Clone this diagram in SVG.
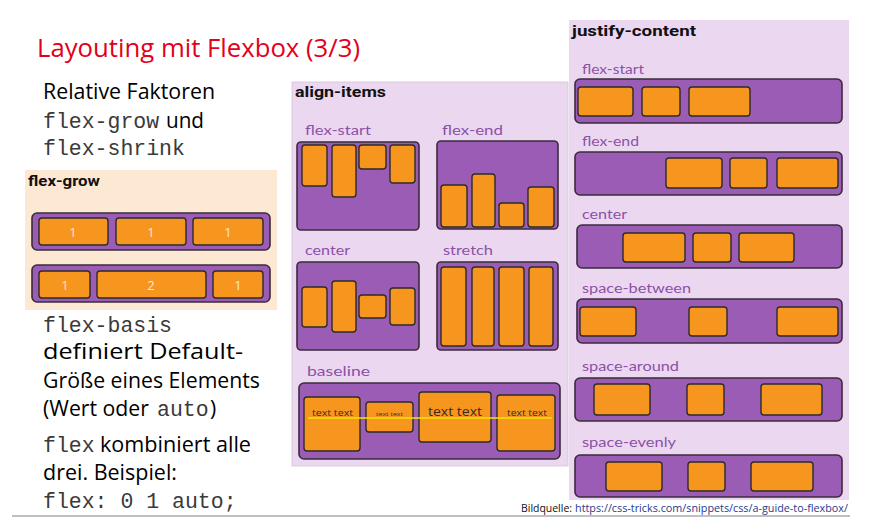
<svg xmlns="http://www.w3.org/2000/svg" width="872" height="518" viewBox="0 0 872 518">
<style>
.title{font-family:"Open Sans","Liberation Sans",sans-serif;font-size:25px;fill:#e2001a}
.body{font-family:"Open Sans","Liberation Sans",sans-serif;font-size:21px;fill:#000}
.mono{font-family:"Liberation Mono","DejaVu Sans Mono",monospace;font-size:21.5px;fill:#3a3a3a}
.hd{font-family:Roboto,"Liberation Sans",sans-serif;font-weight:bold;font-size:14px;fill:#111}
.lab{font-family:Lato,"Open Sans",sans-serif;font-size:13.5px;fill:#8a52a6}
.num{font-family:"Open Sans","Liberation Sans",sans-serif;font-size:13px;fill:#fde6cf;text-anchor:middle}
.tt{font-family:"Open Sans","Liberation Sans",sans-serif;fill:#3a2a20}
.bar{fill:#9a5cb4;stroke:#3a2c3a;stroke-width:1.6}
.it{fill:#f7961f;stroke:#2e2a26;stroke-width:1.4}
.src{font-family:"Open Sans","Liberation Sans",sans-serif;font-size:11px}
</style>

<g id="title"><text class="title" x="37" y="57" textLength="323" lengthAdjust="spacingAndGlyphs">Layouting mit Flexbox (3/3)</text></g>

<g id="left-text">
<text class="body" x="43" y="99" textLength="172" lengthAdjust="spacingAndGlyphs">Relative Faktoren</text>
<text class="mono" x="43" y="128">flex-grow</text>
<text class="body" x="166" y="128" textLength="38" lengthAdjust="spacingAndGlyphs">und</text>
<text class="mono" x="43" y="155">flex-shrink</text>
<text class="mono" x="43" y="332">flex-basis</text>
<text class="body" x="43" y="359" textLength="200" lengthAdjust="spacingAndGlyphs">definiert Default-</text>
<text class="body" x="43" y="388" textLength="217" lengthAdjust="spacingAndGlyphs">Größe eines Elements</text>
<text class="body" x="43" y="416" textLength="106" lengthAdjust="spacingAndGlyphs">(Wert oder</text>
<text class="mono" x="157" y="416">auto</text>
<text class="body" x="210" y="416">)</text>
<text class="mono" x="43" y="452">flex</text>
<text class="body" x="100" y="452" textLength="151" lengthAdjust="spacingAndGlyphs">kombiniert alle</text>
<text class="body" x="43" y="480" textLength="134" lengthAdjust="spacingAndGlyphs">drei. Beispiel:</text>
<text class="mono" x="43" y="508" xml:space="preserve">flex: 0 1 auto;</text>
</g>

<g id="flex-grow">
<rect x="25" y="170" width="252" height="140" fill="#fde8d3"/>
<text class="hd" x="28" y="186" textLength="72" lengthAdjust="spacingAndGlyphs">flex-grow</text>
<rect class="bar" x="32" y="213" width="238" height="37" rx="5"/>
<rect class="it" x="39" y="218" width="69" height="27" rx="3"/>
<rect class="it" x="116" y="218" width="70" height="27" rx="3"/>
<rect class="it" x="193" y="218" width="70" height="27" rx="3"/>
<text class="num" x="73" y="237">1</text>
<text class="num" x="151" y="237">1</text>
<text class="num" x="228" y="237">1</text>
<rect class="bar" x="32" y="265" width="238" height="37" rx="5"/>
<rect class="it" x="39" y="271" width="51" height="27" rx="3"/>
<rect class="it" x="97" y="271" width="109" height="27" rx="3"/>
<rect class="it" x="213" y="271" width="50" height="27" rx="3"/>
<text class="num" x="65" y="290">1</text>
<text class="num" x="151" y="290">2</text>
<text class="num" x="238" y="290">1</text>
</g>

<g id="align-items">
<rect x="292" y="82" width="276" height="384" fill="#ecd7f1" stroke="#d2c6d4" stroke-width="0.8"/>
<text class="hd" x="295" y="97" textLength="91" lengthAdjust="spacingAndGlyphs">align-items</text>

<g id="ai-flex-start">
<text class="lab" x="305" y="135" textLength="66" lengthAdjust="spacingAndGlyphs">flex-start</text>
<rect class="bar" x="297" y="142" width="122" height="88" rx="4"/>
<rect class="it" x="302" y="145" width="25" height="41" rx="3"/>
<rect class="it" x="332" y="145" width="24" height="52" rx="3"/>
<rect class="it" x="359" y="145" width="27" height="24" rx="3"/>
<rect class="it" x="390" y="145" width="25" height="38" rx="3"/>
</g>
<g id="ai-flex-end">
<text class="lab" x="442" y="135" textLength="61" lengthAdjust="spacingAndGlyphs">flex-end</text>
<rect class="bar" x="437" y="141" width="121" height="88" rx="4"/>
<rect class="it" x="441" y="185" width="26" height="42" rx="3"/>
<rect class="it" x="472" y="174" width="23" height="53" rx="3"/>
<rect class="it" x="499" y="203" width="25" height="24" rx="3"/>
<rect class="it" x="528" y="187" width="26" height="40" rx="3"/>
</g>
<g id="ai-center">
<text class="lab" x="305" y="255" textLength="45" lengthAdjust="spacingAndGlyphs">center</text>
<rect class="bar" x="297" y="262" width="122" height="88" rx="4"/>
<rect class="it" x="302" y="287" width="25" height="40" rx="3"/>
<rect class="it" x="332" y="281" width="24" height="51" rx="3"/>
<rect class="it" x="359" y="295" width="27" height="23" rx="3"/>
<rect class="it" x="390" y="288" width="25" height="37" rx="3"/>
</g>
<g id="ai-stretch">
<text class="lab" x="443" y="255" textLength="50" lengthAdjust="spacingAndGlyphs">stretch</text>
<rect class="bar" x="437" y="262" width="121" height="88" rx="4"/>
<rect class="it" x="441" y="267" width="25" height="79" rx="3"/>
<rect class="it" x="472" y="267" width="22" height="79" rx="3"/>
<rect class="it" x="499" y="267" width="25" height="79" rx="3"/>
<rect class="it" x="529" y="267" width="24" height="79" rx="3"/>
</g>
<g id="ai-baseline">
<text class="lab" x="307" y="376" textLength="63" lengthAdjust="spacingAndGlyphs">baseline</text>
<rect class="bar" x="299" y="383" width="261" height="76" rx="5"/>
<rect class="it" x="304" y="397" width="56" height="54" rx="3"/>
<rect class="it" x="366" y="402" width="47" height="30" rx="3"/>
<rect class="it" x="419" y="392" width="72" height="50" rx="3"/>
<rect class="it" x="497" y="395" width="58" height="56" rx="3"/>
<line x1="308" y1="418" x2="552" y2="418" stroke="#f2e600" stroke-width="1.6"/>
<text class="tt" x="312" y="416" font-size="9.5" textLength="41" lengthAdjust="spacingAndGlyphs">text text</text>
<text class="tt" x="376" y="416" font-size="6" textLength="27" lengthAdjust="spacingAndGlyphs">text text</text>
<text class="tt" x="428" y="416" font-size="12.5" textLength="54" lengthAdjust="spacingAndGlyphs">text text</text>
<text class="tt" x="507" y="416" font-size="9.5" textLength="40" lengthAdjust="spacingAndGlyphs">text text</text>
</g>
</g>

<g id="justify-content">
<rect x="569" y="20" width="280" height="480" fill="#ecd7f1"/>
<text class="hd" x="572" y="36" textLength="124" lengthAdjust="spacingAndGlyphs">justify-content</text>

<g id="jc-flex-start">
<text class="lab" x="582" y="74" textLength="62" lengthAdjust="spacingAndGlyphs">flex-start</text>
<rect class="bar" x="575" y="79" width="267" height="44" rx="5"/>
<rect class="it" x="578" y="87" width="55" height="29" rx="3"/>
<rect class="it" x="642" y="87" width="38" height="29" rx="3"/>
<rect class="it" x="689" y="87" width="61" height="29" rx="3"/>
</g>
<g id="jc-flex-end">
<text class="lab" x="582" y="146" textLength="57" lengthAdjust="spacingAndGlyphs">flex-end</text>
<rect class="bar" x="575" y="152" width="267" height="43" rx="5"/>
<rect class="it" x="666" y="158" width="56" height="30" rx="3"/>
<rect class="it" x="730" y="158" width="37" height="30" rx="3"/>
<rect class="it" x="777" y="158" width="61" height="30" rx="3"/>
</g>
<g id="jc-center">
<text class="lab" x="582" y="219" textLength="45" lengthAdjust="spacingAndGlyphs">center</text>
<rect class="bar" x="577" y="225" width="265" height="43" rx="5"/>
<rect class="it" x="623" y="233" width="62" height="29" rx="3"/>
<rect class="it" x="693" y="233" width="38" height="29" rx="3"/>
<rect class="it" x="739" y="233" width="55" height="29" rx="3"/>
</g>
<g id="jc-space-between">
<text class="lab" x="582" y="293" textLength="109" lengthAdjust="spacingAndGlyphs">space-between</text>
<rect class="bar" x="577" y="299" width="265" height="44" rx="5"/>
<rect class="it" x="580" y="307" width="56" height="29" rx="3"/>
<rect class="it" x="689" y="307" width="38" height="29" rx="3"/>
<rect class="it" x="777" y="307" width="61" height="29" rx="3"/>
</g>
<g id="jc-space-around">
<text class="lab" x="582" y="371" textLength="97" lengthAdjust="spacingAndGlyphs">space-around</text>
<rect class="bar" x="575" y="378" width="267" height="43" rx="5"/>
<rect class="it" x="594" y="384" width="56" height="31" rx="3"/>
<rect class="it" x="687" y="384" width="37" height="31" rx="3"/>
<rect class="it" x="761" y="384" width="61" height="31" rx="3"/>
</g>
<g id="jc-space-evenly">
<text class="lab" x="582" y="447" textLength="94" lengthAdjust="spacingAndGlyphs">space-evenly</text>
<rect class="bar" x="575" y="455" width="267" height="42" rx="5"/>
<rect class="it" x="606" y="462" width="56" height="29" rx="3"/>
<rect class="it" x="688" y="462" width="37" height="29" rx="3"/>
<rect class="it" x="751" y="462" width="62" height="29" rx="3"/>
</g>
</g>

<g id="source">
<text class="src" x="521" y="512" fill="#111" textLength="51" lengthAdjust="spacingAndGlyphs">Bildquelle:</text>
<text class="src" x="575" y="512" fill="#1f3a8f" textLength="273" lengthAdjust="spacingAndGlyphs">https://css-tricks.com/snippets/css/a-guide-to-flexbox/</text>
</g>
<line x1="12" y1="516" x2="850" y2="516" stroke="#7f8388" stroke-width="1.2"/>
</svg>
